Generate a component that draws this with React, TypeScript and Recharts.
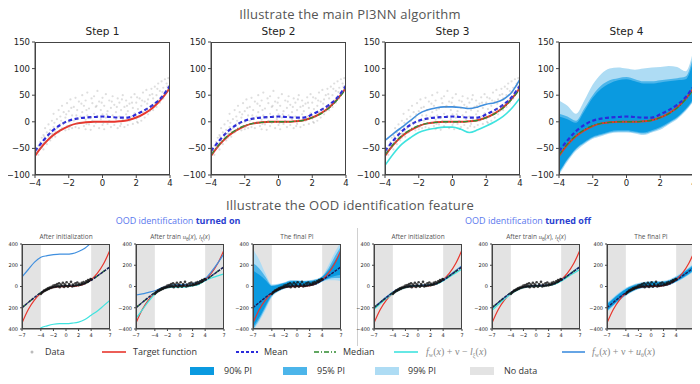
import React from 'react';
import { ComposedChart, Line, Area, Scatter, XAxis, YAxis, ReferenceArea } from 'recharts';

// ---- top row: x grid and curves (x in [-4, 4]) ----
const XS4 = [-4, -3.5, -3, -2.5, -2, -1.5, -1, -0.5, 0, 0.5, 1, 1.5, 2, 2.5, 3, 3.5, 4];
const TARGET4 = [-64, -43, -27, -16, -8, -3, -1, 0, 0, 0, 1, 3, 8, 16, 27, 43, 64];
const MEAN4 = [-55, -35, -18, -6, 2, 6, 8, 9, 10, 9, 8, 8, 14, 22, 32, 46, 68];
const MEDIAN4 = [-62, -42, -26, -15, -7, -3, -1, 0, 0, 0, 1, 3, 8, 15, 26, 42, 62];
const UPPER4 = [-35, -22, -10, 2, 15, 22, 26, 28, 28, 27, 25, 28, 33, 36, 42, 55, 80];
const LOWER4 = [-82, -60, -42, -30, -20, -15, -12, -10, -10, -14, -20, -15, -8, 0, 10, 25, 45];
const HI99_4 = [40, 30, 15, 40, 70, 90, 100, 102, 100, 98, 100, 102, 103, 105, 103, 95, 140];
const LO99_4 = [-100, -75, -55, -42, -32, -27, -22, -20, -20, -22, -25, -20, -15, -5, 5, 20, 40];
const HI95_4 = [15, 10, 2, 25, 50, 68, 78, 82, 84, 80, 76, 76, 78, 80, 82, 85, 130];
const LO95_4 = [-97, -72, -52, -40, -30, -25, -20, -18, -18, -20, -22, -18, -12, -3, 7, 22, 42];
const HI90_4 = [10, 5, -2, 20, 45, 62, 72, 78, 80, 76, 72, 72, 74, 76, 78, 80, 120];
const LO90_4 = [-95, -70, -50, -38, -28, -23, -18, -16, -16, -18, -20, -16, -10, -1, 9, 24, 45];

const SCATTER4: [number, number][] = [
  [-3.9, -58], [-3.8, -45], [-3.8, -62], [-3.7, -38], [-3.7, -50], [-3.6, -30], [-3.6, -48], [-3.5, -25],
  [-3.5, -40], [-3.5, -52], [-3.4, -12], [-3.4, -35], [-3.3, -20], [-3.3, -42], [-3.2, -5], [-3.2, -28],
  [-3.1, -15], [-3.1, -35], [-3.0, 2], [-3.0, -22], [-3.0, -30], [-2.9, -10], [-2.9, 15], [-2.8, -18],
  [-2.8, -28], [-2.7, 5], [-2.7, -12], [-2.6, 22], [-2.6, -20], [-2.5, -5], [-2.5, -15], [-2.5, 10],
  [-2.4, 30], [-2.4, -12], [-2.3, -2], [-2.3, 18], [-2.2, -16], [-2.2, 8], [-2.1, 35], [-2.1, -8],
  [-2.0, 0], [-2.0, -14], [-2.0, 20], [-1.9, 42], [-1.9, -6], [-1.8, 12], [-1.8, -12], [-1.7, 28],
  [-1.7, 2], [-1.6, -10], [-1.6, 45], [-1.5, 5], [-1.5, -4], [-1.5, 22], [-1.4, 38], [-1.4, -12],
  [-1.3, 10], [-1.3, -2], [-1.2, 50], [-1.2, 18], [-1.1, -8], [-1.1, 30], [-1.0, 4], [-1.0, -14],
  [-1.0, 40], [-0.9, 12], [-0.9, 55], [-0.8, -5], [-0.8, 25], [-0.7, 8], [-0.7, -15], [-0.6, 35],
  [-0.6, 2], [-0.5, 48], [-0.5, -8], [-0.5, 15], [-0.4, 28], [-0.4, -2], [-0.3, 58], [-0.3, 10],
  [-0.2, -12], [-0.2, 38], [-0.1, 5], [-0.1, 22], [0, -6], [0, 45], [0, 14], [0.1, 30],
  [0.1, -14], [0.2, 8], [0.2, 52], [0.3, -4], [0.3, 20], [0.4, 40], [0.4, 2], [0.5, -10],
  [0.5, 26], [0.6, 12], [0.6, 48], [0.7, -6], [0.7, 32], [0.8, 5], [0.8, 18], [0.9, 44],
  [0.9, -12], [1.0, 10], [1.0, 36], [1.1, -4], [1.1, 22], [1.2, 50], [1.2, 4], [1.3, -10],
  [1.3, 28], [1.4, 14], [1.4, 40], [1.5, -6], [1.5, 20], [1.6, 34], [1.6, 2], [1.7, 46],
  [1.7, 10], [1.8, -4], [1.8, 26], [1.9, 16], [1.9, 52], [2.0, 6], [2.0, 36], [2.1, -2],
  [2.1, 24], [2.2, 44], [2.2, 10], [2.3, 30], [2.3, 2], [2.4, 55], [2.4, 18], [2.5, 8],
  [2.5, 38], [2.6, 24], [2.6, 60], [2.7, 14], [2.7, 42], [2.8, 20], [2.8, 50], [2.9, 30],
  [2.9, 62], [3.0, 22], [3.0, 44], [3.1, 34], [3.1, 66], [3.2, 28], [3.2, 50], [3.3, 40],
  [3.3, 72], [3.4, 36], [3.4, 58], [3.5, 46], [3.5, 76], [3.6, 44], [3.6, 64], [3.7, 52],
  [3.7, 80], [3.8, 56], [3.8, 72], [3.9, 60], [3.9, 82], [4.0, 66], [4.0, 78],
  [-3.85, -52], [-3.45, -28], [-3.15, -22], [-2.85, -2], [-2.45, 2], [-2.15, 14], [-1.85, 26], [-1.55, 12],
  [-1.25, 34], [-0.95, 22], [-0.65, 44], [-0.35, 30], [-0.05, 36], [0.25, 14], [0.55, 38], [0.85, 28],
  [1.15, 42], [1.45, 30], [1.75, 36], [2.05, 46], [2.35, 40], [2.65, 34], [2.95, 52], [3.25, 62],
  [3.55, 56], [3.85, 66], [-2.95, -24], [-1.95, -10], [-0.95, -4], [0.05, -2], [1.05, -8], [2.05, 0],
];

// ---- bottom row: x grid and curves (x in [-7, 7]) ----
const XS7 = [-7, -6, -5, -4, -3, -2, -1, 0, 1, 2, 3, 4, 5, 6, 7];
const TARGET7 = [-343, -216, -125, -64, -27, -8, -1, 0, 1, 8, 27, 64, 125, 216, 343];
const MEAN7 = [-200, -150, -102, -58, -26, -6, 4, 8, 9, 14, 28, 58, 100, 142, 185];
const ON1_UP = [90, 160, 230, 275, 290, 300, 305, 305, 310, 330, 360, 410, 450, 500, 550];
const ON1_LO = [-620, -560, -470, -390, -370, -355, -350, -350, -345, -335, -310, -270, -230, -180, -130];
const ON2_UP = [-80, -70, -55, -40, -15, 5, 15, 18, 20, 28, 45, 75, 140, 220, 310];
const ON2_LO = [-300, -220, -140, -70, -30, -12, -5, -5, -3, 5, 20, 55, 80, 100, 120];
const ON3_HI99 = [350, 250, 120, 20, 25, 40, 60, 60, 55, 60, 70, 100, 200, 320, 420];
const ON3_LO99 = [-420, -330, -220, -100, -50, -20, -5, -5, -3, 3, 15, 45, 60, 60, 50];
const ON3_HI95 = [220, 170, 90, 10, 20, 35, 55, 55, 50, 55, 65, 95, 170, 280, 380];
const ON3_LO95 = [-400, -310, -200, -90, -45, -18, -4, -4, -2, 4, 17, 48, 70, 80, 80];
const ON3_HI90 = [150, 110, 60, 5, 15, 30, 48, 50, 45, 50, 60, 90, 150, 240, 330];
const ON3_LO90 = [-380, -290, -180, -80, -40, -15, -3, -3, 0, 6, 20, 50, 80, 100, 110];
const OFF1_UP = [-198, -146, -97, -52, -20, -2, 8, 12, 13, 17, 30, 60, 105, 150, 195];
const OFF1_LO = [-215, -162, -112, -66, -32, -10, 0, 4, 5, 10, 24, 52, 90, 128, 165];
const OFF2_UP = [-205, -152, -103, -58, -25, -5, 5, 10, 11, 15, 29, 59, 102, 146, 188];
const OFF2_LO = [-225, -170, -118, -70, -35, -12, -2, 2, 4, 9, 22, 50, 88, 125, 160];
const OFF3_HI99 = [-150, -100, -52, -12, 15, 32, 44, 50, 50, 54, 68, 98, 138, 180, 228];
const OFF3_LO99 = [-240, -185, -135, -88, -52, -26, -14, -10, -6, 0, 14, 40, 70, 108, 150];
const OFF3_HI95 = [-160, -110, -60, -20, 8, 26, 38, 44, 45, 48, 62, 90, 130, 172, 215];
const OFF3_LO95 = [-232, -178, -128, -82, -46, -22, -10, -6, -3, 3, 17, 44, 76, 114, 158];
const OFF3_HI90 = [-170, -118, -68, -26, 2, 20, 32, 38, 40, 43, 57, 84, 124, 164, 205];
const OFF3_LO90 = [-225, -172, -122, -76, -42, -18, -6, -2, 0, 6, 20, 48, 82, 120, 164];

const SCATTER7: [number, number][] = [
  [-4, -70], [-3.8, -58], [-3.6, -50], [-3.5, -38], [-3.3, -40], [-3.2, -28], [-3, -30], [-2.9, -18],
  [-2.7, -22], [-2.6, -10], [-2.4, -14], [-2.3, -2], [-2.1, -8], [-2, 10], [-1.8, -4], [-1.7, 14],
  [-1.5, 0], [-1.4, 22], [-1.2, 2], [-1.1, 30], [-1, -6], [-0.8, 18], [-0.6, 4], [-0.5, 36],
  [-0.3, -4], [-0.2, 20], [0, 6], [0.1, 40], [0.3, -2], [0.5, 24], [0.6, 8], [0.8, 44],
  [1, 0], [1.1, 18], [1.3, 6], [1.5, 30], [1.6, 10], [1.8, 38], [2, 12], [2.1, 26],
  [2.3, 16], [2.5, 34], [2.6, 22], [2.8, 42], [3, 30], [3.2, 48], [3.4, 42], [3.5, 60],
  [3.7, 55], [3.9, 70], [4, 68],
];

const TICKS4_X = [-4, -2, 0, 2, 4];
const TICKS4_Y = [-100, -50, 0, 50, 100, 150];
const TICKS7_X = [-7, -4, -2, 0, 2, 4, 7];
const TICKS7_Y = [-400, -200, 0, 200, 400];

const C = {
  target: '#e8352c',
  mean: '#2b2bdc',
  median: '#2e8b2e',
  lower: '#3fe3df',
  upper: '#3f8fdf',
  p90: '#0a9ae0',
  p95: '#4cb5ea',
  p99: '#aedcf4',
  nodata: '#e3e3e3',
};

const TICK_FONT = '"DejaVu Sans", sans-serif';
const TITLE_FONT = '"Open Sans", "Noto Sans", sans-serif';

const fmt = (v: number) => String(v).replace('-', '\u2212');

const table = (xs: number[], cols: Record<string, any[]>) =>
  xs.map((x, i) => {
    const row: any = { x };
    Object.keys(cols).forEach((k) => (row[k] = cols[k][i]));
    return row;
  });

const pair = (a: number[], b: number[]) => a.map((v, i) => [v, b[i]]);

const topData = table(XS4, {
  target: TARGET4, mean: MEAN4, median: MEDIAN4, up: UPPER4, lo: LOWER4,
  b99: pair(LO99_4, HI99_4), b95: pair(LO95_4, HI95_4), b90: pair(LO90_4, HI90_4),
});
const onData1 = table(XS7, { target: TARGET7, mean: MEAN7, up: ON1_UP, lo: ON1_LO });
const onData2 = table(XS7, { target: TARGET7, mean: MEAN7, up: ON2_UP, lo: ON2_LO });
const onData3 = table(XS7, {
  target: TARGET7, mean: MEAN7,
  b99: pair(ON3_LO99, ON3_HI99), b95: pair(ON3_LO95, ON3_HI95), b90: pair(ON3_LO90, ON3_HI90),
});
const offData1 = table(XS7, { target: TARGET7, mean: MEAN7, up: OFF1_UP, lo: OFF1_LO });
const offData2 = table(XS7, { target: TARGET7, mean: MEAN7, up: OFF2_UP, lo: OFF2_LO });
const offData3 = table(XS7, {
  target: TARGET7, mean: MEAN7,
  b99: pair(OFF3_LO99, OFF3_HI99), b95: pair(OFF3_LO95, OFF3_HI95), b90: pair(OFF3_LO90, OFF3_HI90),
});

const scatterTop = SCATTER4.map(([x, y]) => ({ x, y }));
const scatterBottom = SCATTER7.map(([x, y]) => ({ x, y }));

function series(kinds: string[], small: boolean) {
  const lw = small ? 1.2 : 2;
  const out: any[] = [];
  kinds.forEach((k) => {
    if (k === 'bands') {
      out.push(<Area key="b99" type="monotone" dataKey="b99" stroke="none" fill={C.p99} fillOpacity={1} isAnimationActive={false} />);
      out.push(<Area key="b95" type="monotone" dataKey="b95" stroke="none" fill={C.p95} fillOpacity={1} isAnimationActive={false} />);
      out.push(<Area key="b90" type="monotone" dataKey="b90" stroke="none" fill={C.p90} fillOpacity={1} isAnimationActive={false} />);
    } else if (k === 'scatter') {
      out.push(
        <Scatter key="sc" data={small ? scatterBottom : scatterTop} dataKey="y" isAnimationActive={false}
          shape={(p: any) => small
            ? <circle cx={p.cx} cy={p.cy} r={1.3} fill="#111" fillOpacity={0.8} />
            : <circle cx={p.cx} cy={p.cy} r={1.1} fill="#888" fillOpacity={0.28} />} />
      );
    } else if (k === 'target') {
      out.push(<Line key="t" type="monotone" dataKey="target" stroke={C.target} strokeWidth={lw} dot={false} isAnimationActive={false} />);
    } else if (k === 'mean') {
      out.push(<Line key="m" type="monotone" dataKey="mean" stroke={small ? '#1d1d5c' : C.mean} strokeWidth={small ? 1.4 : 2.2}
        strokeDasharray={small ? '3 1' : '4 2.5'} dot={false} isAnimationActive={false} />);
    } else if (k === 'median') {
      out.push(<Line key="md" type="monotone" dataKey={small ? 'mean' : 'median'} stroke={C.median} strokeWidth={1.4}
        strokeDasharray="5 2 1 2" dot={false} isAnimationActive={false} />);
    } else if (k === 'up') {
      out.push(<Line key="u" type="monotone" dataKey="up" stroke={C.upper} strokeWidth={small ? 1.2 : 1.6} dot={false} isAnimationActive={false} />);
    } else if (k === 'lo') {
      out.push(<Line key="l" type="monotone" dataKey="lo" stroke={C.lower} strokeWidth={small ? 1.2 : 1.6} dot={false} isAnimationActive={false} />);
    }
  });
  return out;
}

function Panel(props: {
  left: number; top: number; w: number; h: number; small: boolean; data: any[]; kinds: string[];
}) {
  const { left, top, w, h, small, data, kinds } = props;
  const yW = small ? 20 : 34;
  const xH = small ? 12 : 18;
  const fs = small ? 5 : 8.5;
  const mt = 8;
  return (
    <div style={{ position: 'absolute', left: left - yW, top: top - mt }}>
      <ComposedChart width={w + yW + 4} height={h + xH + mt} data={data} margin={{ top: mt, right: 4, left: 0, bottom: 0 }}>
        <XAxis dataKey="x" type="number" domain={small ? [-7, 7] : [-4, 4]} ticks={small ? TICKS7_X : TICKS4_X}
          allowDataOverflow interval={0} height={xH} tickSize={small ? 2 : 3} stroke="#444"
          tickFormatter={fmt} tick={{ fontSize: fs, fill: '#222', fontFamily: TICK_FONT }} />
        <YAxis type="number" domain={small ? [-400, 400] : [-100, 150]} ticks={small ? TICKS7_Y : TICKS4_Y}
          allowDataOverflow interval={0} width={yW} tickSize={small ? 2 : 3} stroke="#444"
          tickFormatter={fmt} tick={{ fontSize: fs, fill: '#222', fontFamily: TICK_FONT }} />
        {small && <ReferenceArea x1={-7} x2={-4} y1={-400} y2={400} fill={C.nodata} fillOpacity={1} stroke="none" />}
        {small && <ReferenceArea x1={4} x2={7} y1={-400} y2={400} fill={C.nodata} fillOpacity={1} stroke="none" />}
        {series(kinds, small)}
      </ComposedChart>
      <div style={{ position: 'absolute', left: yW, top: mt, width: w, height: h, border: '1px solid #444', boxSizing: 'border-box', pointerEvents: 'none' }} />
    </div>
  );
}

const TOP_W = 135, TOP_H = 133, TOP_Y = 42;
const BOT_W = 88, BOT_H = 85, BOT_Y = 244;

const topPanels = [
  { title: 'Step 1', left: 35, kinds: ['scatter', 'target', 'mean'] },
  { title: 'Step 2', left: 211, kinds: ['scatter', 'target', 'median', 'mean'] },
  { title: 'Step 3', left: 385, kinds: ['scatter', 'up', 'lo', 'target', 'median', 'mean'] },
  { title: 'Step 4', left: 559, kinds: ['bands', 'target', 'median', 'mean'] },
];

const Train = () => (
  <span>After train <i style={{ fontFamily: 'serif' }}>u</i><sub style={{ fontSize: '0.7em' }}>θ</sub>(<i>x</i>), <i style={{ fontFamily: 'serif' }}>l</i><sub style={{ fontSize: '0.7em' }}>ξ</sub>(<i>x</i>)</span>
);

const bottomPanels = [
  { title: 'After initialization', left: 22, data: onData1, kinds: ['scatter', 'target', 'up', 'lo', 'median', 'mean'] },
  { title: 'train', left: 136, data: onData2, kinds: ['scatter', 'target', 'up', 'lo', 'median', 'mean'] },
  { title: 'The final PI', left: 253, data: onData3, kinds: ['bands', 'scatter', 'target', 'mean'] },
  { title: 'After initialization', left: 374, data: offData1, kinds: ['scatter', 'target', 'lo', 'up', 'median', 'mean'] },
  { title: 'train', left: 492, data: offData2, kinds: ['scatter', 'target', 'lo', 'up', 'median', 'mean'] },
  { title: 'The final PI', left: 607, data: offData3, kinds: ['bands', 'scatter', 'target', 'mean'] },
];

const Fw = ({ sign, fn, sub }: { sign: string; fn: string; sub: string }) => (
  <tspan fontFamily="serif" fill="#888">
    <tspan fontStyle="italic">f</tspan>
    <tspan fontSize={6} dy={2}>w</tspan>
    <tspan dy={-2}>(</tspan><tspan fontStyle="italic">x</tspan><tspan>) + ν {sign} </tspan>
    <tspan fontStyle="italic">{fn}</tspan>
    <tspan fontSize={6} dy={2}>{sub}</tspan>
    <tspan dy={-2}>(</tspan><tspan fontStyle="italic">x</tspan><tspan>)</tspan>
  </tspan>
);

function Legend() {
  const y1 = 352, y2 = 371;
  const txt = { fontSize: 9, fill: '#333', fontFamily: TITLE_FONT } as const;
  return (
    <svg width={700} height={384} style={{ position: 'absolute', left: 0, top: 0, pointerEvents: 'none' }}>
      <circle cx={32} cy={y1} r={1.5} fill="#bbb" />
      <text x={45} y={y1 + 3} {...txt}>Data</text>
      <line x1={102} x2={126} y1={y1} y2={y1} stroke={C.target} strokeWidth={1.6} />
      <text x={133} y={y1 + 3} {...txt}>Target function</text>
      <line x1={236} x2={258} y1={y1} y2={y1} stroke={C.mean} strokeWidth={1.8} strokeDasharray="3 2" />
      <text x={264} y={y1 + 3} {...txt}>Mean</text>
      <line x1={314} x2={336} y1={y1} y2={y1} stroke={C.median} strokeWidth={1.4} strokeDasharray="5 2 1 2" />
      <text x={343} y={y1 + 3} {...txt}>Median</text>
      <line x1={394} x2={418} y1={y1} y2={y1} stroke={C.lower} strokeWidth={1.6} />
      <text x={426} y={y1 + 3} fontSize={10}><Fw sign="−" fn="l" sub="ξ" /></text>
      <line x1={562} x2={585} y1={y1} y2={y1} stroke={C.upper} strokeWidth={1.6} />
      <text x={592} y={y1 + 3} fontSize={10}><Fw sign="+" fn="u" sub="θ" /></text>

      <rect x={190} y={y2 - 4} width={24} height={8} fill={C.p90} />
      <text x={224} y={y2 + 3} {...txt}>90% PI</text>
      <rect x={283} y={y2 - 4} width={24} height={8} fill={C.p95} />
      <text x={317} y={y2 + 3} {...txt}>95% PI</text>
      <rect x={375} y={y2 - 4} width={24} height={8} fill={C.p99} />
      <text x={408} y={y2 + 3} {...txt}>99% PI</text>
      <rect x={470} y={y2 - 4} width={24} height={8} fill={C.nodata} />
      <text x={504} y={y2 + 3} {...txt}>No data</text>
    </svg>
  );
}

export default function App() {
  const center = (x: number, y: number, w: number, content: any, style: any) => (
    <div style={{ position: 'absolute', left: x - w / 2, top: y, width: w, textAlign: 'center', whiteSpace: 'nowrap', ...style }}>{content}</div>
  );
  return (
    <div style={{ position: 'relative', width: 700, height: 384, background: '#fff', overflow: 'hidden', fontFamily: TITLE_FONT, margin: -8 }}>
      {center(350, 5, 400, 'Illustrate the main PI3NN algorithm', { fontSize: 13, color: '#555', letterSpacing: 0.2 })}
      {topPanels.map((p) => (
        <React.Fragment key={p.title}>
          {center(p.left + TOP_W / 2, 25, 100, p.title, { fontSize: 10.5, color: '#222', fontFamily: TICK_FONT })}
          <Panel left={p.left} top={TOP_Y} w={TOP_W} h={TOP_H} small={false} data={topData} kinds={p.kinds} />
        </React.Fragment>
      ))}
      {center(350, 196, 400, 'Illustrate the OOD identification feature', { fontSize: 13, color: '#555', letterSpacing: 0.2 })}
      {center(178, 214, 220, <span>OOD identification <b style={{ color: '#2a3fd0' }}>turned on</b></span>, { fontSize: 9, color: '#5a78ee' })}
      {center(528, 214, 220, <span>OOD identification <b style={{ color: '#2a3fd0' }}>turned off</b></span>, { fontSize: 9, color: '#5a78ee' })}
      <div style={{ position: 'absolute', left: 357, top: 228, width: 1, height: 118, background: '#d0d0d0' }} />
      {bottomPanels.map((p, i) => (
        <React.Fragment key={i}>
          {center(p.left + BOT_W / 2, 232, 110, p.title === 'train' ? <Train /> : p.title, { fontSize: 6.5, color: '#555' })}
          <Panel left={p.left} top={BOT_Y} w={BOT_W} h={BOT_H} small={true} data={p.data} kinds={p.kinds} />
        </React.Fragment>
      ))}
      <Legend />
    </div>
  );
}
